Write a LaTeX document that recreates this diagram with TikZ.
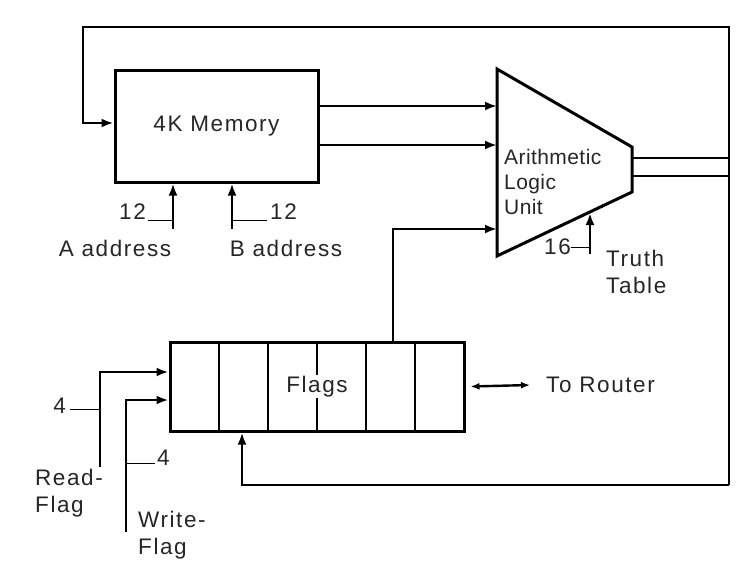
\documentclass[tikz,border=0pt]{standalone}
\usepackage{fontspec}
\setmainfont{Liberation Sans}[LetterSpace=7]
\usepackage{tikz}
\usetikzlibrary{arrows.meta}
\usetikzlibrary{positioning}

\tikzset{
    box/.style = {draw, line width = 3pt, inner sep = 0pt},
    wire/.style = {line width = 2.4pt},
    tick/.style = {line width = 1pt},
    lbl/.style = {font = \fontsize{22.5}{27}\selectfont, inner sep = 0pt, text = black!85},
}

\begin{document}
\begin{tikzpicture}[x = 1pt, y = -1pt, >={Latex[length = 12pt, width = 9pt]}]
        \useasboundingbox (0, 0) rectangle (754, 566);

        % memory and alu
        \node[box, lbl, minimum width = 203pt, minimum height = 112pt] (mem) at (216.5, 126) {4K Memory};

        \coordinate (alutl) at (497, 69);
        \coordinate (alutr) at (632, 147);
        \coordinate (alubr) at (632, 192);
        \coordinate (alubl) at (497, 256);
        \draw[box, line join = miter] (alutl) -- (alutr) -- (alubr) -- (alubl) -- cycle;
        \node[lbl, font = \fontsize{21}{25}\selectfont\addfontfeatures{LetterSpace = 2}, align = left, anchor = west]
            (alu) at (504, 182) {Arithmetic\\Logic\\Unit};

        \draw[wire, ->] ([yshift = 20pt]mem.east) -- ([yshift = 20pt]mem.east -| alutl);
        \draw[wire, ->] ([yshift = -19pt]mem.east) -- ([yshift = -19pt]mem.east -| alutl);

        % flags register
        \node[box, minimum width = 294pt, minimum height = 89pt] (flags) at (317, 386.5) {};
        \foreach \x in {219, 268, 317, 366, 415}
            \draw[line width = 1.8pt] (\x, 342) -- (\x, 431);
        \node[lbl, fill = white, inner sep = 1pt] (flagtxt) at (flags) {Flags};

        \node[lbl, anchor = west] (router) at (546, 385) {To Router};
        \draw[wire, {Latex[length = 9pt, width = 7pt]}-{Latex[length = 9pt, width = 7pt]}]
            ([xshift = 5pt]flags.east) -- ([xshift = -16pt]router.west);

        % feedback loops
        \coordinate (fbtr) at (729, 27);
        \coordinate (fbtl) at (83, 27);
        \coordinate (fbbr) at (729, 485);
        \coordinate (aluout1) at (632, 158);
        \coordinate (aluout2) at (632, 176);
        \draw[wire, ->] (fbbr) -- (fbtr) -- (fbtl) |- ([yshift = 3pt]mem.west);
        \draw[wire, ->] (fbbr) -| ([xshift = -75pt]flags.south);
        \draw[wire] (aluout1) -- (aluout1 -| fbtr);
        \draw[wire] (aluout2) -- (aluout2 -| fbtr);

        \coordinate (aluin3) at (497, 229);
        \draw[wire, ->] ([xshift = 76pt]flags.north) |- (aluin3);

        % truth table
        \coordinate (truth) at (590, 254);
        \draw[wire, ->] (truth) -- (590, 213);
        \node[lbl, anchor = east] (n16) at (571, 247) {16};
        \draw[tick] (n16.east) -- (n16.east -| truth);
        \node[lbl, align = left, anchor = north west] (truthtxt) at (606, 250) {Truth\\Table};

        % addresses
        \coordinate (aaddr) at (173, 229);
        \coordinate (baddr) at (232, 229);
        \draw[wire, ->] (aaddr) -- (aaddr |- mem.south);
        \draw[wire, ->] (baddr) -- (baddr |- mem.south);
        \node[lbl, anchor = east] (n12a) at (146, 212) {12};
        \draw[tick] (148, 220) -- (aaddr |- 0, 220);
        \node[lbl, anchor = west] (n12b) at (270, 212) {12};
        \draw[tick] (baddr |- 0, 220) -- (267, 220);
        \node[lbl] (atxt) at (115, 248) {A address};
        \node[lbl] (btxt) at (286, 248) {B address};

        % read and write flags
        \coordinate (rd) at (100, 467);
        \coordinate (wr) at (126, 532);
        \draw[wire, ->] (rd) |- ([yshift = 14.5pt]flags.west);
        \draw[wire, ->] (wr) |- ([yshift = -13.5pt]flags.west);
        \node[lbl, anchor = east] (n4r) at (66, 406) {4};
        \draw[tick] (70, 409) -- (rd |- 0, 409);
        \node[lbl, anchor = west] (n4w) at (157, 458) {4};
        \draw[tick] (wr |- 0, 463) -- (155, 463);
        \node[lbl, align = left, anchor = north west] (rdtxt) at (35, 469) {Read-\\Flag};
        \node[lbl, align = left, anchor = north west] (wrtxt) at (138, 511) {Write-\\Flag};
\end{tikzpicture}
\end{document}
